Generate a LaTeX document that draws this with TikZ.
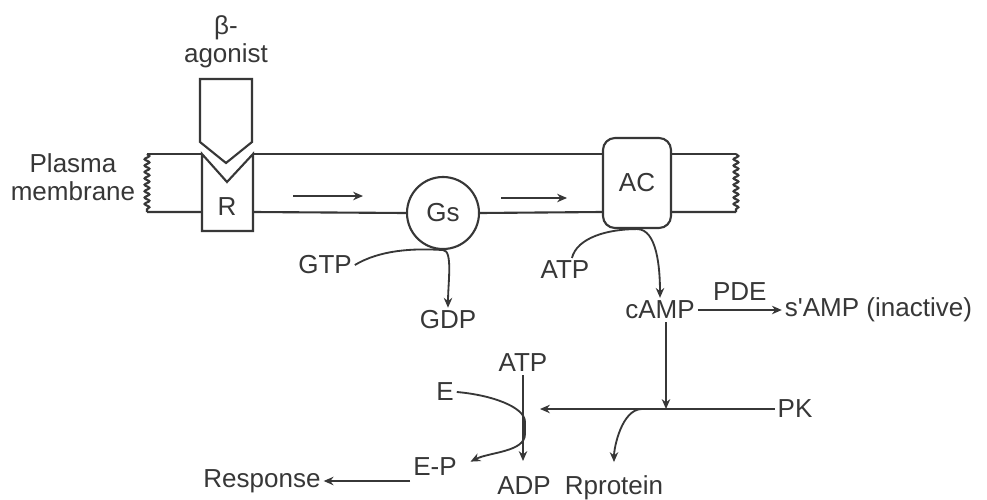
\documentclass[tikz,border=0pt]{standalone}
\usepackage{fontspec}
\setmainfont{Liberation Sans}
\usetikzlibrary{arrows.meta,positioning,calc,decorations.pathmorphing}
\definecolor{inkgray}{RGB}{55,55,55}

\begin{document}
\begin{tikzpicture}[
    x=0.025cm, y=-0.025cm,
    every node/.style={font=\fontsize{18.5}{20}\selectfont, text=inkgray},
    chem/.style={inner sep=2pt},
    memline/.style={draw=inkgray, line width=1.5pt},
    wavy/.style={memline, decorate, decoration={snake, amplitude=0.06cm, segment length=0.16cm}},
    protein/.style={draw=inkgray, line width=1.5pt, inner sep=0pt},
    arrow/.style={-{Stealth[length=7pt,width=6pt]}, line width=1.3pt, draw=inkgray},
    pathline/.style={line width=1.3pt, draw=inkgray}
]
\fill[white] (0,0) rectangle (987,500);
\useasboundingbox (0,0) rectangle (987,500);

% labels outside the membrane
\node[align=center] (agonist) at (226,42) {β-\\agonist};
\node[align=center] (plasma) at (73,177) {Plasma\\membrane};

% agonist and receptor
\draw[memline] (200,79) -- (252,79) -- (252,142) -- (226,163) -- (200,142) -- cycle;
\draw[memline] (202,154) -- (202,231) -- (253,231) -- (253,154) -- (227,182) -- cycle;
\node (r) at (227,207) {R};

% membrane proteins
\node[protein, circle, minimum size=1.8cm] (gs) at (443,213) {Gs};
\node[protein, rounded corners=0.3cm, minimum width=1.7cm, minimum height=2.25cm] (ac) at (637,183) {AC};

% membrane
\coordinate (mtl) at (147,154);
\coordinate (mbl) at (147,212);
\coordinate (mtr) at (736,154);
\coordinate (mbr) at (736,212);
\draw[memline] (mtl) -- (202,154) (253,154) -- (ac.west |- mtl) (ac.east |- mtr) -- (mtr);
\draw[memline] (mbl) -- (202,212) (253,212) -- (gs.west) (gs.east) -- (ac.west |- mbr) (ac.east |- mbr) -- (mbr);
\draw[wavy] (mtl) -- (mbl);
\draw[wavy] (mtr) -- (mbr);

\coordinate (flow1a) at (293,196);
\coordinate (flow1b) at (363,196);
\coordinate (flow2a) at (501,198);
\coordinate (flow2b) at (567,198);
\draw[arrow] (flow1a) -- (flow1b);
\draw[arrow] (flow2a) -- (flow2b);

% metabolites
\node[chem] (gtp) at (325,265) {GTP};
\node[chem] (gdp) at (448,320) {GDP};
\node[chem] (atp) at (565,270) {ATP};
\node[chem] (camp) at (660,310) {cAMP};
\node[chem, right=2.1cm of camp] (samp) {s\textquotesingle AMP (inactive)};
\node[chem] (atpb) at (523,363) {ATP};
\node[chem] (e) at (445,392) {E};
\node[chem] (ep) at (435,467) {E-P};
\node[chem] (resp) at (262,481) {Response};
\node[chem, anchor=base] (adp) at (524,494) {ADP};
\node[chem, anchor=base] (rprot) at (614,494) {Rprotein};
\node[chem] (pk) at (795,409) {PK};

\coordinate (pkj) at (666,409);
\coordinate (pkend) at (540,409);
\coordinate (rpbr) at (642,409);
\coordinate (etop) at (525,422);
\coordinate (ebot) at (525,434);

% reactions
\draw[arrow] (gtp.east) .. controls +(25,-15) and +(-30,-2) .. (gs.south)
    .. controls +(10,0) and +(0,-25) .. (gdp.north);
\draw[arrow] (atp.60) .. controls +(5,-20) and +(-30,0) .. (ac.south)
    .. controls +(20,0) and +(0,-30) .. (camp.north);
\draw[arrow] (camp.east) -- node[chem, above=4pt] (pde) {PDE} (samp.west);
\draw[arrow] (camp.south -| pkj) -- (pkj);
\draw[arrow] (pk.west) -- (pkend);
\draw[arrow, shorten >=0.25cm] (rpbr) .. controls +(-20,0) and +(0,-25) .. (rprot.north);
\draw[arrow, shorten >=0.3cm] (atpb.south) -- (atpb.south |- adp.north);
\draw[pathline] (e.east) .. controls +(35,3) and +(0,-15) .. (etop) -- (ebot);
\draw[arrow, shorten >=0.3cm] (ebot) .. controls +(0,18) and +(30,-15) .. (ep.east);
\draw[arrow] (ep.west |- resp.east) -- (resp.east);
\end{tikzpicture}
\end{document}
